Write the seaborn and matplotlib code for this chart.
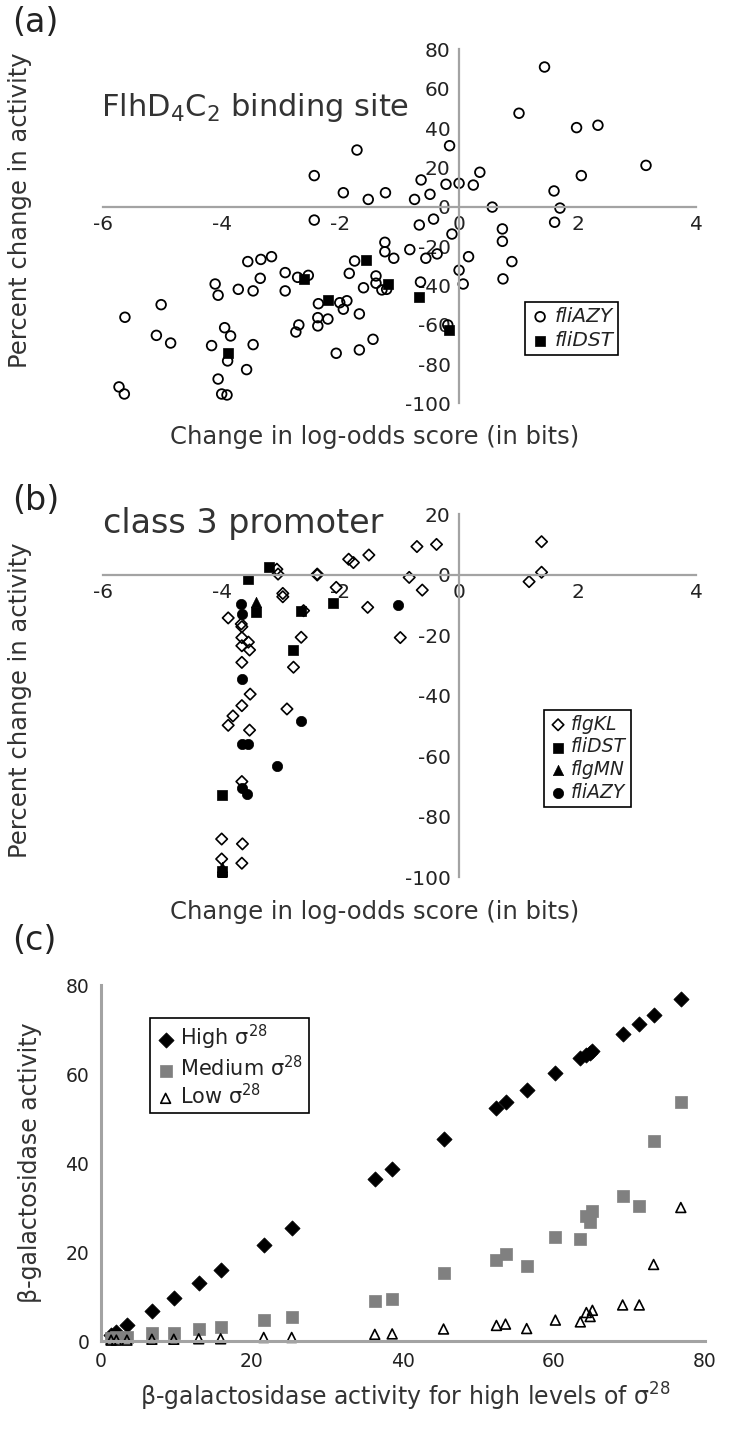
import numpy as np
import pandas as pd
import matplotlib
matplotlib.use("Agg")
import matplotlib.pyplot as plt
import seaborn as sns

sns.set_theme(style="white")
plt.rcParams['font.family'] = ['DejaVu Sans']
plt.rcParams['mathtext.fontset'] = 'dejavusans'
plt.rcParams['axes.unicode_minus'] = False

# ---- panel (a): FlhD4C2 binding site ----
a_fliazy_x = [1.44, 1.01, 1.98, 2.34, -0.16, -1.72, 0.35, 2.06, -0.64, -0.22, 0.0, 0.24,
              -1.95, -1.24, -0.49, 1.6, -1.53, -0.75, 0.56, 1.70, -0.43, -0.67, 1.61, 0.73,
              -2.44, -2.44, -1.25, -1.25, -3.16, -3.34, -3.56, -1.76, -2.93, -1.85, -1.40,
              -2.72, -2.54, -3.35, -1.40, -1.30, -4.11, -4.06, -3.72, -3.47, -2.93, -1.61,
              -5.02, -5.63, -2.37, -2.01, -1.89, -1.95, -1.68, -2.38, -2.21, -2.38, -2.70,
              -2.75, -1.45, -1.68, -2.07, -3.95, -3.85, -5.10, -4.86, -4.17, -3.47, -3.90,
              -3.58, -4.06, -5.73, -5.64, -4.00, -3.91, -0.12, 0.73, -0.83, -0.56, -0.37,
              -1.10, 0.16, 0.89, 0.0, 0.74, 0.07, -0.65, -1.22, -0.19, 3.15]
a_fliazy_y = [71.0, 47.5, 40.2, 41.4, 31.0, 28.8, 17.5, 15.8, 13.6, 11.4, 11.9, 11.0,
              7.1, 7.1, 6.3, 8.0, 3.7, 3.7, -0.2, -0.7, -6.3, -9.3, -7.9, -11.3,
              15.8, -6.8, -18.1, -22.9, -25.4, -26.8, -27.9, -27.6, -33.5, -33.9, -35.2,
              -35.9, -34.9, -36.4, -38.9, -42.3, -39.3, -45.0, -42.0, -42.8, -42.8, -41.2,
              -49.8, -56.2, -49.3, -48.8, -47.8, -52.1, -54.5, -56.4, -57.1, -60.6, -60.1,
              -63.7, -67.4, -72.8, -74.5, -61.5, -65.7, -65.4, -69.3, -70.6, -70.1, -78.4,
              -82.8, -87.6, -91.6, -95.2, -95.2, -95.7, -13.9, -17.6, -21.8, -26.2, -24.0,
              -26.2, -25.4, -27.9, -32.3, -36.7, -39.3, -38.3, -42.0, -60.1, 21.0]
a_flidst_x = [-1.56, -2.62, -1.20, -2.21, -3.90, -0.67, -0.17]
a_flidst_y = [-27.1, -36.7, -39.3, -47.4, -74.5, -45.9, -62.5]

# ---- panel (b): class 3 promoter ----
b_flgkl_x = [-0.71, -0.38, -1.52, -1.86, -1.78, -2.39, -2.39, -3.07, -3.05, -0.84, -0.62,
             -2.07, -2.97, -2.97, -1.54, -2.62, -2.66, -0.99, -3.89, -3.67, -3.66, -3.66,
             -3.66, -3.55, -3.53, -2.79, -3.66, -3.52, -3.66, -3.81, -3.89, -3.53, -2.90,
             -3.66, -4.0, -3.65, -4.0, -3.66, 1.39, 1.39, 1.18]
b_flgkl_y = [9.4, 10.1, 6.6, 5.2, 4.1, 0.3, 0.0, 1.9, 0.3, -0.8, -5.0,
             -4.1, -6.1, -7.2, -10.7, -11.8, -20.6, -20.7, -14.2, -16.2, -17.1, -20.7,
             -23.4, -22.2, -24.8, -30.5, -28.9, -39.4, -43.2, -46.6, -49.7, -51.3, -44.3,
             -68.3, -87.3, -88.9, -93.9, -95.3, 11.0, 0.9, -2.2]
b_flidst_x = [-3.20, -3.55, -3.42, -2.67, -2.12, -2.79, -4.0, -4.0]
b_flidst_y = [2.5, -1.2, -12.1, -11.8, -9.1, -24.8, -72.6, -98.0]
b_flgmn_x = [-3.42, -4.0]
b_flgmn_y = [-9.0, -96.5]
b_fliazy_x = [-3.68, -3.66, -1.03, -3.66, -2.67, -3.66, -3.55, -3.06, -3.66, -3.57, -4.0]
b_fliazy_y = [-9.7, -13.0, -9.8, -34.4, -48.4, -55.9, -55.9, -63.1, -70.3, -72.4, -99.3]

# ---- panel (c): beta-galactosidase activity ----
c_high_level = [1.4, 2.1, 3.5, 6.8, 9.7, 13.0, 15.9, 21.6, 25.3, 36.3, 38.6, 45.4, 52.4,
                53.6, 56.4, 60.2, 63.5, 64.3, 64.8, 65.1, 69.1, 71.3, 73.2, 76.8]
c_high = [1.4, 2.1, 3.5, 6.8, 9.7, 13.0, 15.9, 21.6, 25.3, 36.3, 38.6, 45.4, 52.4,
          53.6, 56.4, 60.2, 63.5, 64.3, 64.8, 65.1, 69.1, 71.3, 73.2, 76.8]
c_medium = [0.6, 0.8, 1.0, 1.7, 1.9, 2.6, 3.1, 4.8, 5.4, 9.0, 9.5, 15.2, 18.3,
            19.6, 16.9, 23.4, 22.9, 28.2, 26.7, 29.3, 32.6, 30.4, 45.0, 53.8]
c_low = [0.2, 0.2, 0.2, 0.4, 0.4, 0.5, 0.5, 0.8, 0.8, 1.5, 1.6, 2.7, 3.5,
         3.8, 2.8, 4.7, 4.3, 6.4, 5.5, 6.9, 8.1, 8.1, 17.2, 30.0]

GRAY = '#a3a3a3'
TXT = '#222222'
LBL = '#333333'

fig = plt.figure(figsize=(7.5, 14.46), dpi=100)


def center_axes(ax, xlim, ylim, yticks):
    ax.set_xlim(*xlim)
    ax.set_ylim(*ylim)
    for s in ['top', 'right']:
        ax.spines[s].set_visible(False)
    for s in ['left', 'bottom']:
        ax.spines[s].set_position(('data', 0))
        ax.spines[s].set_color(GRAY)
        ax.spines[s].set_linewidth(1.6)
    ax.set_xticks(np.arange(-6, 5, 2))
    ax.set_yticks(yticks)
    ax.tick_params(direction='out', length=4, width=1.2, color=GRAY,
                   labelsize=14.5, labelcolor=TXT, pad=2)
    ax.set_xlabel('')
    ax.set_ylabel('')
    ax.patch.set_alpha(0)


def box_legend(ax, x, y, fs, spacing=0.25):
    leg = ax.legend(loc='upper left', bbox_to_anchor=(x / 750, 1 - y / 1446),
                    bbox_transform=fig.transFigure, borderaxespad=0, frameon=True,
                    fancybox=False, edgecolor='black', framealpha=1, fontsize=fs,
                    handletextpad=0.2, borderpad=0.25, labelspacing=spacing,
                    handlelength=1.0)
    leg.get_frame().set_linewidth(1.2)
    for t in leg.get_texts():
        t.set_color(TXT)
    return leg


# (a)
ax_a = fig.add_axes([0.1373, 0.721, 0.7913, 0.2449])
sns.scatterplot(x=a_fliazy_x, y=a_fliazy_y, ax=ax_a, marker='o', s=48,
                facecolor='none', edgecolor='black', linewidth=1.3, label='fliAZY')
sns.scatterplot(x=a_flidst_x, y=a_flidst_y, ax=ax_a, marker='s', s=55,
                color='black', edgecolor='black', linewidth=0.5, label='fliDST')
center_axes(ax_a, (-6, 4), (-100, 80), np.arange(-100, 81, 20))
leg = box_legend(ax_a, 525, 302, 14.5)
for t in leg.get_texts():
    t.set_style('italic')

# (b)
ax_b = fig.add_axes([0.1373, 0.3932, 0.7913, 0.2510])
sns.scatterplot(x=b_flgkl_x, y=b_flgkl_y, ax=ax_b, marker='D', s=34,
                facecolor='none', edgecolor='black', linewidth=1.2, label='flgKL')
sns.scatterplot(x=b_flidst_x, y=b_flidst_y, ax=ax_b, marker='s', s=55,
                color='black', edgecolor='black', linewidth=0.5, label='fliDST')
sns.scatterplot(x=b_flgmn_x, y=b_flgmn_y, ax=ax_b, marker='^', s=55,
                color='black', edgecolor='black', linewidth=0.5, label='flgMN')
sns.scatterplot(x=b_fliazy_x, y=b_fliazy_y, ax=ax_b, marker='o', s=55,
                color='black', edgecolor='black', linewidth=0.5, label='fliAZY')
center_axes(ax_b, (-6, 4), (-100, 20), np.arange(-100, 21, 20))
leg = box_legend(ax_b, 544, 710, 13.5, spacing=0.2)
for t in leg.get_texts():
    t.set_style('italic')

# (c)
ax_c = fig.add_axes([0.134, 0.0726, 0.806, 0.2462])
sns.scatterplot(x=c_high_level, y=c_high, ax=ax_c, marker='D', s=60,
                color='black', edgecolor='black', linewidth=0.5, label='High σ$^{28}$')
sns.scatterplot(x=c_high_level, y=c_medium, ax=ax_c, marker='s', s=70,
                color='#808080', edgecolor='#808080', linewidth=0.5, label='Medium σ$^{28}$')
sns.scatterplot(x=c_high_level, y=c_low, ax=ax_c, marker='^', s=50,
                facecolor='none', edgecolor='black', linewidth=1.2, label='Low σ$^{28}$')
ax_c.set_xlim(0, 80)
ax_c.set_ylim(0, 80)
ax_c.set_xticks(np.arange(0, 81, 20))
ax_c.set_yticks(np.arange(0, 81, 20))
for s in ['top', 'right']:
    ax_c.spines[s].set_visible(False)
for s in ['left', 'bottom']:
    ax_c.spines[s].set_color(GRAY)
    ax_c.spines[s].set_linewidth(2.2)
ax_c.tick_params(direction='out', length=5, width=1.6, color=GRAY,
                 labelsize=13.5, labelcolor=TXT, pad=3)
ax_c.set_xlabel('')
ax_c.set_ylabel('')
ax_c.patch.set_alpha(0)
for coll in ax_c.collections:
    coll.set_clip_on(False)
box_legend(ax_c, 150, 1018, 15, spacing=0.12)

# titles, axis labels
fig.text(12 / 750, 1 - 22 / 1446, '(a)', fontsize=24, color=TXT, va='center', ha='left')
fig.text(12 / 750, 1 - 500 / 1446, '(b)', fontsize=24, color=TXT, va='center', ha='left')
fig.text(12 / 750, 1 - 940 / 1446, '(c)', fontsize=24, color=TXT, va='center', ha='left')
fig.text(101 / 750, 1 - 107 / 1446, 'FlhD$_4$C$_2$ binding site', fontsize=22,
         color=LBL, va='center', ha='left')
fig.text(103 / 750, 1 - 523 / 1446, 'class 3 promoter', fontsize=24,
         color=LBL, va='center', ha='left')

fig.text(20 / 750, 1 - 210 / 1446, 'Percent change in activity', rotation=90,
         fontsize=17.5, color=LBL, va='center', ha='center')
fig.text(20 / 750, 1 - 700 / 1446, 'Percent change in activity', rotation=90,
         fontsize=17.5, color=LBL, va='center', ha='center')
fig.text(30 / 750, 1 - 1163 / 1446, 'β-galactosidase activity', rotation=90,
         fontsize=17, color=LBL, va='center', ha='center')
fig.text(375 / 750, 1 - 437 / 1446, 'Change in log-odds score (in bits)',
         fontsize=17.5, color=LBL, va='center', ha='center')
fig.text(375 / 750, 1 - 912 / 1446, 'Change in log-odds score (in bits)',
         fontsize=17.5, color=LBL, va='center', ha='center')
fig.text(405 / 750, 1 - 1397 / 1446, 'β-galactosidase activity for high levels of σ$^{28}$',
         fontsize=17, color=LBL, va='center', ha='center')

fig.savefig('out.png', dpi=100, facecolor='white')
